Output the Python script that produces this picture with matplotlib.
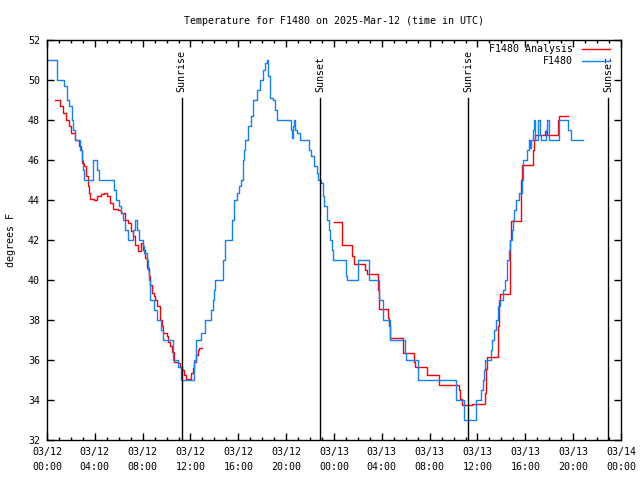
import numpy as np
import matplotlib
matplotlib.use("Agg")
import matplotlib.pyplot as plt
from matplotlib.ticker import MultipleLocator

# hours after 03/12 00:00 UTC, degrees F
obs_hours = [0.0, 0.81, 1.45, 1.64, 1.85, 2.06, 2.2, 2.34, 2.76, 2.9, 3.0, 3.12,
             3.82, 4.15, 4.37, 5.6, 5.77, 6.0, 6.2, 6.38, 6.55, 6.8, 7.2, 7.36,
             7.55, 7.7, 8.0, 8.15, 8.33, 8.45, 8.56, 8.62, 8.95, 9.2, 9.5, 9.73,
             10.5, 10.56, 10.98, 11.2, 12.26, 12.46, 12.88, 13.2, 13.7, 13.85,
             13.95, 14.05, 14.7, 14.9, 15.44, 15.64, 15.9, 16.05, 16.2, 16.35,
             16.45, 16.56, 16.85, 17.05, 17.25, 17.6, 17.8, 18.1, 18.25, 18.42,
             18.5, 18.65, 18.9, 19.05, 19.2, 20.37, 20.5, 20.58, 20.68, 20.78,
             20.9, 21.15, 21.93, 22.1, 22.35, 22.55, 22.69, 22.95, 23.05, 23.2,
             23.38, 23.55, 23.7, 23.8, 23.9, 24.97, 25.05, 26.03, 26.9, 27.79,
             28.12, 28.68, 29.9, 29.99, 31.05, 34.2, 34.9, 35.85, 36.3, 36.43,
             36.55, 36.62, 37.1, 37.23, 37.4, 37.51, 37.7, 37.88, 38.1, 38.3,
             38.5, 38.6, 38.71, 38.85, 38.93, 39.05, 39.19, 39.5, 39.69, 39.83,
             40.1, 40.33, 40.4, 40.5, 40.65, 40.75, 40.85, 41.1, 41.2, 41.35,
             41.7, 41.78, 41.95, 42.0, 42.81, 43.59, 43.79, 44.84]
obs_temp = [51, 50, 49.67, 49, 48.67, 48, 47.5, 47, 46.5, 46, 45.5, 45,
            46, 45.5, 45, 44.5, 44, 43.67, 43.33, 43, 42.5, 42, 42.5, 43,
            42.5, 42, 41.67, 41.33, 41, 40.5, 40, 39, 38.5, 38, 37.5, 37,
            36.5, 36, 35.67, 35, 36, 37, 37.33, 38, 38.5, 39,
            39.5, 40, 41, 42, 43, 44, 44.33, 44.67, 45, 46,
            46.5, 47, 47.67, 48.17, 49, 49.5, 50, 50.5, 50.83, 51,
            50.17, 49.08, 49, 48.5, 48, 47.5, 47.08, 47.67, 48, 47.5,
            47.33, 47, 46.5, 46.17, 45.67, 45.33, 45, 44.83, 44.17, 43.67,
            43, 42.5, 42, 41.5, 41, 40.2, 40, 41, 40, 39,
            38, 37, 36.33, 36, 35, 34, 33, 34, 34.5, 35,
            35.5, 36, 36.5, 37, 37.5, 38, 38.67, 39, 39.5, 40,
            41, 41.5, 42, 42.5, 43, 43.5, 44, 44.33, 45, 46,
            46.5, 47, 46.58, 47, 47.5, 48, 47, 48, 47.25, 47,
            47.5, 48, 47.5, 47, 48, 47.5, 47, 47]

ana_hours = [0.67, 1.1, 1.3, 1.56, 1.8, 2.0, 2.34, 2.7, 2.85, 2.95, 3.1, 3.3,
             3.4, 3.5, 3.62, 3.9, 4.2, 4.5, 4.79, 5.0, 5.3, 5.54, 5.9, 6.2,
             6.5, 6.8, 7.0, 7.2, 7.4, 7.64, 7.86, 8.05, 8.2, 8.35, 8.5, 8.62,
             8.75, 8.95, 9.05, 9.2, 9.45, 9.6, 9.73, 10.0, 10.15, 10.3, 10.45,
             10.62, 10.98, 11.12, 11.3, 11.45, 11.62, 11.9, 12.05, 12.2, 12.32,
             12.45, 12.6, 12.7, 12.93, 13.0,
             24.02, 24.69, 25.5, 25.67, 26.6, 26.73, 27.7, 27.76, 28.55, 28.6,
             28.68, 29.74, 30.7, 30.77, 31.75, 32.75, 34.45, 34.55, 34.73,
             35.56, 36.62, 36.7, 36.76, 37.73, 37.8, 37.88, 38.75, 38.77, 39.6,
             39.68, 39.74, 40.65, 40.7, 40.77, 41.66, 41.83, 42.75, 42.81, 43.59]
ana_temp = [49, 48.67, 48.33, 48, 47.67, 47.33, 47, 46.67, 46.5, 45.83, 45.67, 45.17,
            44.67, 44.33, 44.03, 44.0, 44.17, 44.3, 44.33, 44.17, 43.83, 43.53, 43.5, 43.33,
            43.0, 42.83, 42.42, 42.17, 41.75, 41.42, 41.83, 41.5, 41.08, 40.58, 40.17, 39.75,
            39.33, 39.2, 39.0, 38.67, 38.0, 37.67, 37.33, 37.17, 36.9, 36.67, 36.4,
            35.92, 35.87, 35.67, 35.5, 35.25, 35.03, 35.03, 35.33, 35.58, 35.92,
            36.25, 36.5, 36.58, 36.58, np.nan,
            42.88, 41.73, 41.17, 40.78, 40.5, 40.28, 39.5, 38.53, 38.1, 37.7,
            37.08, 36.33, 35.9, 35.63, 35.23, 34.73, 34.5, 34.03, 33.75,
            33.8, 34.33, 35.53, 36.13, 37.67, 39.0, 39.27, 42.0, 42.92, 44.0,
            45.0, 45.75, 46.5, 47.0, 47.25, 47.42, 47.25, 48.0, 48.2, 48.2]

sun_hours = [11.26, 22.85, 35.23, 46.93]
sun_labels = ["Sunrise", "Sunset", "Sunrise", "Sunset"]

tick_hours = [0, 4, 8, 12, 16, 20, 24, 28, 32, 36, 40, 44, 48]
tick_labels = ["03/12\n00:00", "03/12\n04:00", "03/12\n08:00", "03/12\n12:00",
               "03/12\n16:00", "03/12\n20:00", "03/13\n00:00", "03/13\n04:00",
               "03/13\n08:00", "03/13\n12:00", "03/13\n16:00", "03/13\n20:00",
               "03/14\n00:00"]

plt.rcParams["font.family"] = ["DejaVu Sans Mono"]
plt.rcParams["font.size"] = 7.2

fig = plt.figure(figsize=(6.4, 4.8), dpi=100)
ax = fig.add_axes([0.0734, 0.0833, 0.8969, 0.8344])

ax.plot(ana_hours, ana_temp, color="#ff0000", lw=1.0, drawstyle="steps-post",
        label="F1480 Analysis")
ax.plot(obs_hours, obs_temp, color="#1080ff", lw=1.0, drawstyle="steps-post",
        label="F1480")

# sunrise / sunset markers
for h, lab in zip(sun_hours, sun_labels):
    ax.axvline(h, ymin=0, ymax=0.855, color="black", lw=1.0)
    ax.text(h, 0.87, lab, rotation=90, ha="center", va="bottom",
            transform=ax.get_xaxis_transform())

ax.set_xlim(0, 48)
ax.set_ylim(32, 52)
ax.set_xticks(tick_hours)
ax.set_xticklabels(tick_labels)
plt.setp(ax.get_xticklabels(), linespacing=1.6)
ax.xaxis.set_minor_locator(MultipleLocator(1))
ax.set_yticks(np.arange(32, 53, 2))
ax.tick_params(which="both", direction="in", top=True, right=True, width=1.0)
ax.tick_params(which="major", length=5, pad=5)
ax.tick_params(which="minor", length=2.5)
for s in ax.spines.values():
    s.set_linewidth(1.0)

ax.set_ylabel("degrees F", labelpad=9)
ax.set_title("Temperature for F1480 on 2025-Mar-12 (time in UTC)",
             fontsize=7.2, pad=11.5)

ax.legend(loc="upper right", bbox_to_anchor=(0.981, 0.988), markerfirst=False,
          frameon=False, handlelength=2.8, handletextpad=0.9, labelspacing=0.2,
          borderpad=0, borderaxespad=0)

fig.savefig("out.png", dpi=100)
